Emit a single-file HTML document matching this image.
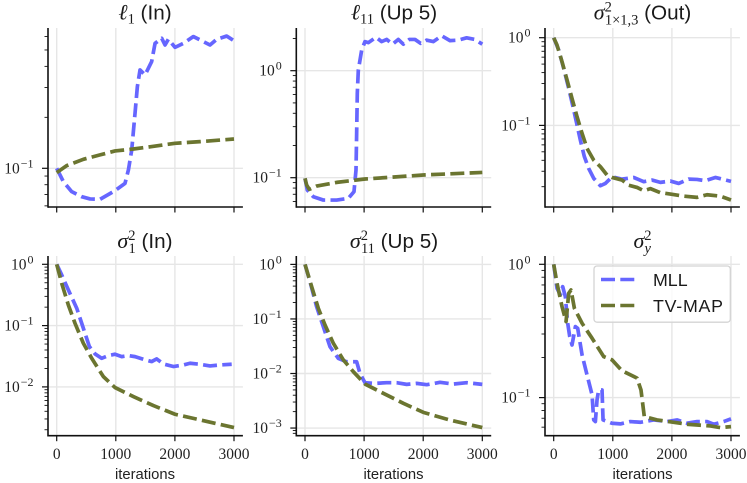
<!DOCTYPE html>
<html>
<head>
<meta charset="utf-8">
<title>MLL vs TV-MAP</title>
<style>
html,body{margin:0;padding:0;background:#fff;}
svg{display:block;}
.title{font-family:"Liberation Sans",sans-serif;font-size:20.7px;fill:#1a1a1a;text-anchor:middle;}
.math{font-family:"Liberation Serif","DejaVu Serif",serif;font-style:italic;font-size:22px;}
.sub{font-family:"Liberation Serif",serif;font-size:14.5px;}
.tick{font-family:"Liberation Serif",serif;font-size:15.5px;fill:#222;}
.xlabel{font-family:"Liberation Sans",sans-serif;font-size:14.8px;fill:#222;text-anchor:middle;}
.legend-text{font-family:"Liberation Sans",sans-serif;font-size:17.8px;fill:#1a1a1a;}
</style>
</head>
<body>
<svg id="fig" xmlns="http://www.w3.org/2000/svg" width="747" height="483" viewBox="0 0 747 483">
<g id="plots"></g>
<g>
<text class="title" x="145" y="19.5"><tspan class="math">ℓ</tspan><tspan class="sub" dy="4">1</tspan><tspan dy="-4"> (In)</tspan></text>
<text class="title" x="394" y="19.5"><tspan class="math">ℓ</tspan><tspan class="sub" dy="4">11</tspan><tspan dy="-4"> (Up 5)</tspan></text>
<text class="title" x="642.5" y="19.5"><tspan class="math">σ</tspan><tspan class="sub" dy="-8">2</tspan><tspan class="sub" font-size="15" dx="-7" dy="13">1×1,3</tspan><tspan dy="-5"> (Out)</tspan></text>
<text class="title" x="145" y="248"><tspan class="math">σ</tspan><tspan class="sub" dy="-8">2</tspan><tspan class="sub" dx="-7" dy="13">1</tspan><tspan dy="-5"> (In)</tspan></text>
<text class="title" x="394" y="248"><tspan class="math">σ</tspan><tspan class="sub" dy="-8">2</tspan><tspan class="sub" dx="-7" dy="13">11</tspan><tspan dy="-5"> (Up 5)</tspan></text>
<text class="title" x="642.5" y="248"><tspan class="math">σ</tspan><tspan class="sub" dy="-8">2</tspan><tspan class="sub" font-style="italic" dx="-7" dy="13">y</tspan></text>
</g>
<g>
<text class="xlabel" x="145" y="479">iterations</text>
<text class="xlabel" x="393.5" y="479">iterations</text>
<text class="xlabel" x="642.5" y="479">iterations</text>
</g>
<g id="legend">
<rect x="594" y="266" width="136.3" height="56.2" rx="3" fill="#fff" fill-opacity="0.8" stroke="#d4d4d4" stroke-width="1.3"/>
<line x1="601" y1="279.5" x2="636" y2="279.5" stroke="#6666ff" stroke-width="3.6" stroke-dasharray="14 5.3"/>
<text class="legend-text" x="653" y="286">MLL</text>
<line x1="601" y1="305.5" x2="636" y2="305.5" stroke="#6b7530" stroke-width="3.6" stroke-dasharray="14 5.3"/>
<text class="legend-text" x="653" y="312" textLength="70">TV-MAP</text>
</g>
</svg>
<script>
const xTicks = [0, 1000, 2000, 3000];

const l1MllIter = [0,113,254,423,564,733,987,1156,1213,1269,1325,1365,1410,1495,1607,1664,1777,1833,1889,2002,2143,2312,2453,2594,2707,2876,3000];
const l1MllVal = [.1,.0834,.0728,.068,.0659,.0656,.0738,.0815,.0977,.128,.211,.304,.381,.356,.427,.547,.586,.535,.578,.518,.547,.6,.567,.535,.578,.604,.567];
const l1TvIter = [0,169,451,733,987,1297,1579,2002,2425,3000];
const l1TvVal = [.0943,.1037,.113,.12,.1266,.13,.134,.1405,.1437,.149];

const l11MllIter = [0,39,141,310,536,733,829,863,874,885,902,959,1015,1072,1201,1297,1382,1483,1579,1664,1765,1861,1957,2059,2171,2312,2453,2594,2735,2876,3000];
const l11MllVal = [.0986,.0767,.0664,.0618,.0618,.0641,.074,.118,.2597,.614,1.01,1.56,1.87,1.83,2.05,1.87,1.96,1.77,1.96,1.77,1.96,1.96,1.8,1.93,1.87,2.12,1.91,1.93,2.03,1.96,1.77];
const l11TvIter = [0,28,73,197,536,1015,2002,3000];
const l11TvVal = [.0986,.0854,.0778,.0836,.0904,.0972,.106,.112];

const s113MllIter = [0,85,169,254,327,395,451,519,592,677,790,874,987,1156,1353,1523,1664,1805,1974,2115,2284,2425,2566,2735,3000];
const s113MllVal = [1,.723,.447,.264,.163,.101,.068,.044,.0323,.0249,.0205,.0218,.0259,.0244,.0255,.0228,.0238,.0224,.0232,.0218,.0244,.0242,.0234,.0255,.023];
const s113TvIter = [0,56,141,226,310,395,480,564,677,790,903,987,1156,1269,1410,1523,1636,1805,1974,2200,2425,2594,2820,3000];
const s113TvVal = [1,.825,.532,.329,.203,.1256,.0811,.0547,.0402,.0338,.0271,.0255,.0238,.0208,.0196,.018,.019,.0171,.0165,.0156,.0151,.0162,.0156,.0141];

const s1MllIter = [0,85,197,339,451,553,649,761,874,987,1100,1213,1325,1466,1607,1692,1805,1974,2143,2256,2425,2594,2763,2961];
const s1MllVal = [1,.67,.382,.192,.0905,.0455,.0345,.0293,.0324,.0341,.0312,.0324,.0312,.0282,.0259,.0286,.0237,.0215,.0228,.0243,.0234,.022,.0228,.0234];
const s1TvIter = [0,85,197,310,451,592,790,987,1297,1636,2002,2425,3000];
const s1TvVal = [1,.49,.217,.109,.0515,.0293,.0147,.00975,.00695,.00496,.00358,.0029,.00217];

const s11MllIter = [0,85,197,310,423,564,705,874,931,1015,1184,1382,1551,1720,1889,2059,2284,2510,2735,3000];
const s11MllVal = [1,.481,.1676,.0721,.031,.0189,.0164,.0164,.01,.00678,.00659,.00678,.00678,.00632,.00659,.00623,.00689,.00641,.00678,.00632];
const s11TvIter = [0,113,226,339,480,649,818,1015,1325,1664,2002,2453,3000];
const s11TvVal = [1,.39,.156,.0773,.0357,.0177,.0108,.00641,.00433,.00284,.00194,.0014,.00102];

const syMllIter = [0,56,113,152,197,237,271,310,367,406,480,564,649,677,705,733,761,818,835,987,1128,1297,1466,1692,1918,2087,2256,2425,2594,2707,2876,3000];
const syMllVal = [1,.661,.589,.68,.572,.361,.287,.248,.341,.331,.209,.148,.105,.068,.0661,.096,.114,.114,.068,.0642,.0635,.0661,.0653,.068,.0661,.068,.0642,.0661,.0661,.0631,.0661,.0692];
const syTvIter = [0,56,141,209,254,293,350,480,649,846,987,1156,1410,1477,1533,1748,2030,2256,2651,2820,3000];
const syTvVal = [1,.72,.481,.372,.606,.642,.468,.361,.279,.203,.192,.159,.14,.114,.072,.068,.0653,.0631,.0613,.0596,.0606];

const NS = 'http://www.w3.org/2000/svg';
const BLUE = '#6666ff';
const OLIVE = '#6b7530';
const plots = document.getElementById('plots');

function make(tag, parent) {
  const el = document.createElementNS(NS, tag);
  parent.appendChild(el);
  return el;
}
function seg(parent, x1, y1, x2, y2, color, width) {
  const el = make('line', parent);
  el.setAttribute('x1', x1);
  el.setAttribute('y1', y1);
  el.setAttribute('x2', x2);
  el.setAttribute('y2', y2);
  el.setAttribute('stroke', color);
  el.setAttribute('stroke-width', width);
  return el;
}

function drawPanel(p) {
  const g = make('g', plots);
  
  

  const xScale = v => p.x0 + (p.x1 - p.x0) * v / 3000;
  const yScale = v => p.yAnchor - p.decade * (Math.log10(v) - p.anchorExp);
  const left = p.x0 - 8.7;
  const right = p.x1 + 8.9;
  const invY = y => p.anchorExp + (p.yAnchor - y) / p.decade;
  const expMin = Math.floor(invY(p.bottom));
  const expMax = Math.ceil(invY(p.top));

  xTicks.forEach(t => {
    const grid = seg(g, xScale(t), p.top, xScale(t), p.bottom, '#e6e6e6', 1.4);
    
    
    const tick = seg(g, xScale(t), p.bottom, xScale(t), p.bottom + 5.5, '#111', 1.2);
    
    
    if (p.showX) {
      const label = make('text', g);
      label.setAttribute('class', 'tick');
      label.setAttribute('x', xScale(t));
      label.setAttribute('y', p.bottom + 23.5);
      label.setAttribute('text-anchor', 'middle');
      label.textContent = String(t);
      
      
    }
  });

  for (let e = expMin; e <= expMax; e++) {
    const major = yScale(Math.pow(10, e));
    if (major >= p.top && major <= p.bottom) {
      const grid = seg(g, left, major, right, major, '#e6e6e6', 1.4);
      
      
      const tick = seg(g, left - 6, major, left, major, '#111', 1.2);
      
      
      const label = make('text', g);
      label.setAttribute('class', 'tick');
      label.setAttribute('x', left - 14.5);
      label.setAttribute('y', major + 5);
      label.setAttribute('text-anchor', 'end');
      
      
      const base = make('tspan', label);
      base.textContent = '10';
      const sup = make('tspan', label);
      sup.setAttribute('font-size', '12');
      sup.setAttribute('dy', '-6');
      sup.setAttribute('dx', '1');
      sup.textContent = e === 0 ? '0' : '\u2212' + Math.abs(e);
    }
    for (let m = 2; m <= 9; m++) {
      const y = yScale(m * Math.pow(10, e));
      if (y >= p.top && y <= p.bottom) {
        const tick = seg(g, left - 3.5, y, left, y, '#111', 0.9);
        
        
      }
    }
  }

  const drawLine = (xs, ys, color, name) => {
    const line = make('path', g);
    line.setAttribute('d', xs.map((x, i) => (i ? 'L' : 'M') + xScale(x).toFixed(2) + ' ' + yScale(ys[i]).toFixed(2)).join(''));
    line.setAttribute('fill', 'none');
    line.setAttribute('stroke', color);
    line.setAttribute('stroke-width', '3.7');
    line.setAttribute('stroke-dasharray', '14 5.3');
    line.setAttribute('stroke-linejoin', 'round');
    
    
  };
  drawLine(p.mllX, p.mllY, BLUE, 'series-mll');
  drawLine(p.tvX, p.tvY, OLIVE, 'series-tv-map');

  const spineL = seg(g, left, p.top, left, p.bottom + 0.8, '#111', 1.6);
  
  
  const spineB = seg(g, left, p.bottom, right, p.bottom, '#111', 1.6);
  
  
}

drawPanel({id:'l1-in', x0:56.7, x1:234, top:28, bottom:207, yAnchor:168.3, anchorExp:-1, decade:169.3, showX:false,
  mllX:l1MllIter, mllY:l1MllVal, tvX:l1TvIter, tvY:l1TvVal});
drawPanel({id:'l11-up5', x0:305, x1:482.3, top:28, bottom:207, yAnchor:70.7, anchorExp:0, decade:107, showX:false,
  mllX:l11MllIter, mllY:l11MllVal, tvX:l11TvIter, tvY:l11TvVal});
drawPanel({id:'sigma-1x1x3-out', x0:553.7, x1:731, top:28, bottom:207, yAnchor:37.7, anchorExp:0, decade:87.7, showX:false,
  mllX:s113MllIter, mllY:s113MllVal, tvX:s113TvIter, tvY:s113TvVal});
drawPanel({id:'sigma-1-in', x0:56.7, x1:234, top:256, bottom:435.7, yAnchor:264.3, anchorExp:0, decade:61.3, showX:true,
  mllX:s1MllIter, mllY:s1MllVal, tvX:s1TvIter, tvY:s1TvVal});
drawPanel({id:'sigma-11-up5', x0:305, x1:482.3, top:256, bottom:435.7, yAnchor:264.4, anchorExp:0, decade:54.55, showX:true,
  mllX:s11MllIter, mllY:s11MllVal, tvX:s11TvIter, tvY:s11TvVal});
drawPanel({id:'sigma-y', x0:553.7, x1:731, top:256, bottom:435.7, yAnchor:264.3, anchorExp:0, decade:133.3, showX:true,
  mllX:syMllIter, mllY:syMllVal, tvX:syTvIter, tvY:syTvVal});
</script>
</body>
</html>
